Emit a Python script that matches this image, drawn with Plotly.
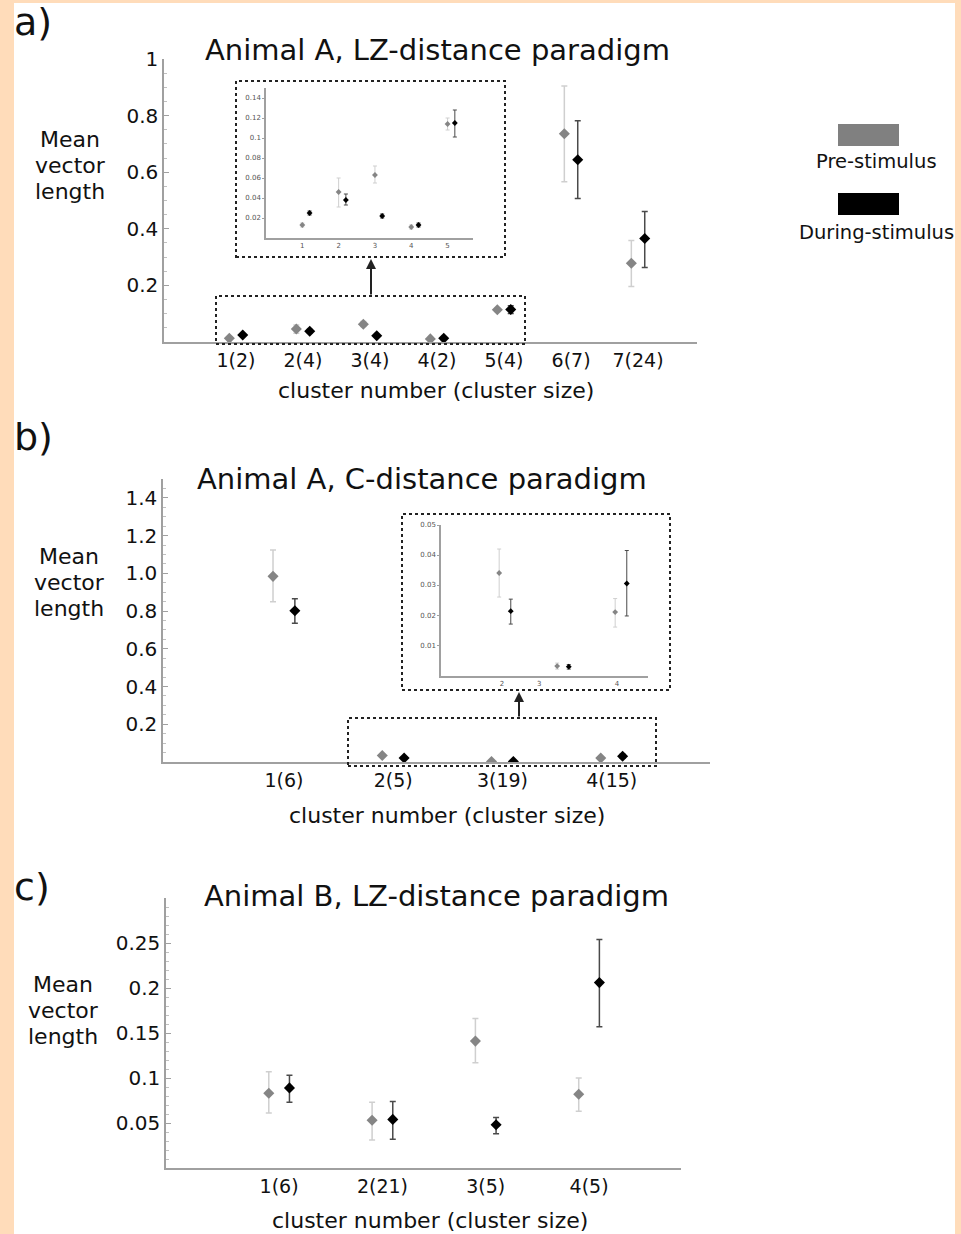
import plotly.graph_objects as go

# ---------------- data ----------------
A_clusters = ["1(2)", "2(4)", "3(4)", "4(2)", "5(4)", "6(7)", "7(24)"]
A_pre = [0.013, 0.046, 0.063, 0.011, 0.114, 0.736, 0.278]
A_pre_hi = [0.015, 0.060, 0.072, 0.013, 0.120, 0.905, 0.359]
A_pre_lo = [0.011, 0.031, 0.055, 0.009, 0.108, 0.566, 0.196]
A_dur = [0.025, 0.038, 0.022, 0.013, 0.115, 0.644, 0.366]
A_dur_hi = [0.027, 0.044, 0.024, 0.015, 0.128, 0.782, 0.461]
A_dur_lo = [0.023, 0.033, 0.020, 0.011, 0.101, 0.507, 0.263]
A_inset_n = 5  # clusters shown in the inset
A_inset_ticks = ["1", "2", "3", "4", "5"]

B_clusters = ["1(6)", "2(5)", "3(19)", "4(15)"]
B_pre = [0.984, 0.034, 0.003, 0.021]
B_pre_hi = [1.124, 0.042, 0.004, 0.0255]
B_pre_lo = [0.850, 0.026, 0.002, 0.016]
B_dur = [0.802, 0.0213, 0.0028, 0.0305]
B_dur_hi = [0.865, 0.0253, 0.0035, 0.0415]
B_dur_lo = [0.736, 0.017, 0.002, 0.0197]
B_inset_ticks = ["2", "3", "4"]
B_inset_tickpos = [1.95, 2.59, 3.93]

C_clusters = ["1(6)", "2(21)", "3(5)", "4(5)"]
C_pre = [0.083, 0.053, 0.141, 0.082]
C_pre_hi = [0.107, 0.073, 0.166, 0.100]
C_pre_lo = [0.061, 0.031, 0.117, 0.063]
C_dur = [0.089, 0.054, 0.048, 0.206]
C_dur_hi = [0.103, 0.074, 0.056, 0.254]
C_dur_lo = [0.073, 0.032, 0.038, 0.157]

titles = ["Animal A, LZ-distance paradigm", "Animal A, C-distance paradigm",
          "Animal B, LZ-distance paradigm"]
ylabel_lines = ["Mean", "vector", "length"]
xlabel = "cluster number (cluster size)"
legend_names = ["Pre-stimulus", "During-stimulus"]

# ---------------- style ----------------
W, H = 961, 1234
FONT = "DejaVu Sans"
PRE_C, DUR_C = "#858585", "#000000"
PRE_E, DUR_E = "#cfcfcf", "#4a4a4a"
AXC = "#a0a0a0"


def fx(p):
    return p / W


def fy(p):
    return 1 - p / H


fig = go.Figure()


def add_pair(xs_pre, xs_dur, pre, pre_hi, pre_lo, dur, dur_hi, dur_lo, xa, ya, msize, ethick, ewidth):
    fig.add_trace(go.Scatter(
        x=xs_pre, y=pre, mode="markers", xaxis=xa, yaxis=ya, showlegend=False,
        marker=dict(symbol="diamond", size=msize, color=PRE_C),
        error_y=dict(type="data", symmetric=False,
                     array=[h - v for h, v in zip(pre_hi, pre)],
                     arrayminus=[v - l for v, l in zip(pre, pre_lo)],
                     color=PRE_E, thickness=ethick, width=ewidth)))
    fig.add_trace(go.Scatter(
        x=xs_dur, y=dur, mode="markers", xaxis=xa, yaxis=ya, showlegend=False,
        marker=dict(symbol="diamond", size=msize, color=DUR_C),
        error_y=dict(type="data", symmetric=False,
                     array=[h - v for h, v in zip(dur_hi, dur)],
                     arrayminus=[v - l for v, l in zip(dur, dur_lo)],
                     color=DUR_E, thickness=ethick, width=ewidth)))


# panel a main
nA = len(A_clusters)
add_pair([i + 1 - 0.1 for i in range(nA)], [i + 1 + 0.1 for i in range(nA)],
         A_pre, A_pre_hi, A_pre_lo, A_dur, A_dur_hi, A_dur_lo, "x", "y", 8.5, 1.5, 3)
# panel a inset
add_pair([i + 1 for i in range(A_inset_n)], [i + 1.2 for i in range(A_inset_n)],
         A_pre[:A_inset_n], A_pre_hi[:A_inset_n], A_pre_lo[:A_inset_n],
         A_dur[:A_inset_n], A_dur_hi[:A_inset_n], A_dur_lo[:A_inset_n], "x2", "y2", 4.5, 1, 2)
# panel b main
nB = len(B_clusters)
add_pair([i + 1 - 0.1 for i in range(nB)], [i + 1 + 0.1 for i in range(nB)],
         B_pre, B_pre_hi, B_pre_lo, B_dur, B_dur_hi, B_dur_lo, "x3", "y3", 8.5, 1.5, 3)
# panel b inset (clusters 2-4)
add_pair([i + 1 - 0.1 for i in range(1, nB)], [i + 1 + 0.1 for i in range(1, nB)],
         B_pre[1:], B_pre_hi[1:], B_pre_lo[1:], B_dur[1:], B_dur_hi[1:], B_dur_lo[1:],
         "x4", "y4", 4.5, 1, 2)
# panel c
nC = len(C_clusters)
add_pair([i + 1 - 0.1 for i in range(nC)], [i + 1 + 0.1 for i in range(nC)],
         C_pre, C_pre_hi, C_pre_lo, C_dur, C_dur_hi, C_dur_lo, "x5", "y5", 8.5, 1.5, 3)


def xax(domain, rng, tickvals, ticktext, anchor, size=19, color="#111"):
    return dict(domain=domain, range=rng, anchor=anchor, tickvals=tickvals, ticktext=ticktext,
                showline=True, linecolor=AXC, linewidth=1.5, ticks="", showgrid=False,
                zeroline=False, automargin=False,
                tickfont=dict(family=FONT, size=size, color=color))


def yax(domain, rng, tickvals, ticktext, anchor, ticks="inside", minor=None, size=20,
        color="#111", tlen=5):
    d = dict(domain=domain, range=rng, anchor=anchor, tickvals=tickvals, ticktext=ticktext,
             showline=True, linecolor=AXC, linewidth=1.5, ticks=ticks, ticklen=tlen,
             tickcolor=AXC, showgrid=False, zeroline=False, automargin=False,
             tickfont=dict(family=FONT, size=size, color=color))
    if minor:
        d["minor"] = dict(dtick=minor, ticks=ticks, ticklen=3, tickcolor="#c0c0c0")
    return d


layout = dict(
    width=W, height=H, margin=dict(l=0, r=0, t=0, b=0, pad=0, autoexpand=False),
    paper_bgcolor="#FFDCBA", plot_bgcolor="rgba(0,0,0,0)",
    font=dict(family=FONT, color="#111"),
    xaxis=xax([fx(164), fx(697)], [-0.075, 7.88], list(range(1, nA + 1)), A_clusters, "y"),
    yaxis=yax([fy(342), fy(59)], [0, 1.0], [0.2, 0.4, 0.6, 0.8, 1.0],
              ["0.2", "0.4", "0.6", "0.8", "1"], "x", minor=0.05),
    xaxis2=xax([fx(266), fx(473)], [0, 5.7], list(range(1, A_inset_n + 1)), A_inset_ticks, "y2",
               size=7, color="#555"),
    yaxis2=yax([fy(238), fy(88)], [0, 0.15], [0.02, 0.04, 0.06, 0.08, 0.1, 0.12, 0.14],
               ["0.02", "0.04", "0.06", "0.08", "0.1", "0.12", "0.14"], "x2", ticks="outside",
               size=7, color="#555", tlen=2),
    xaxis3=xax([fx(163), fx(710)], [-0.107, 4.9], list(range(1, nB + 1)), B_clusters, "y3"),
    yaxis3=yax([fy(762), fy(479)], [0, 1.5], [0.2, 0.4, 0.6, 0.8, 1.0, 1.2, 1.4],
               ["0.2", "0.4", "0.6", "0.8", "1.0", "1.2", "1.4"], "x3", minor=0.05),
    xaxis4=xax([fx(441), fx(648)], [0.897, 4.466], B_inset_tickpos, B_inset_ticks, "y4",
               size=7, color="#555"),
    yaxis4=yax([fy(676), fy(525)], [-0.0003, 0.05], [0.01, 0.02, 0.03, 0.04, 0.05],
               ["0.01", "0.02", "0.03", "0.04", "0.05"], "x4", ticks="outside", size=7,
               color="#555", tlen=2),
    xaxis5=xax([fx(166), fx(681)], [-0.095, 4.89], list(range(1, nC + 1)), C_clusters, "y5"),
    yaxis5=yax([fy(1168), fy(898)], [0, 0.3], [0.05, 0.1, 0.15, 0.2, 0.25],
               ["0.05", "0.1", "0.15", "0.2", "0.25"], "x5", minor=0.01),
)
fig.update_layout(**layout)

shapes = [dict(type="rect", xref="paper", yref="paper", x0=fx(14), x1=fx(955), y0=0, y1=fy(3),
               fillcolor="white", line=dict(width=0), layer="below")]
dot = dict(color="#222", width=2, dash="dot")
for (x0, y0, x1, y1) in [(236, 81, 505, 257), (216, 296, 525, 344),
                         (402, 514, 670, 690), (348, 718, 656, 766)]:
    shapes.append(dict(type="rect", xref="paper", yref="paper", x0=fx(x0), x1=fx(x1),
                       y0=fy(y1), y1=fy(y0), line=dot, layer="above"))
# legend swatches
shapes.append(dict(type="rect", xref="paper", yref="paper", x0=fx(838), x1=fx(899),
                   y0=fy(146), y1=fy(124), fillcolor="#808080", line=dict(width=0)))
shapes.append(dict(type="rect", xref="paper", yref="paper", x0=fx(838), x1=fx(899),
                   y0=fy(215), y1=fy(193), fillcolor="#000000", line=dict(width=0)))
fig.update_layout(shapes=shapes)

ann = []


def txt(x, y, s, size, anchor="center"):
    ann.append(dict(x=fx(x), y=fy(y), xref="paper", yref="paper", text=s, showarrow=False,
                    xanchor=anchor, yanchor="middle",
                    font=dict(family=FONT, size=size, color="#111")))


txt(437, 50, titles[0], 29)
txt(422, 479, titles[1], 29)
txt(436, 896, titles[2], 29)
for (x, y) in [(436, 390), (447, 815), (430, 1220)]:
    txt(x, y, xlabel, 22)
for (x, y) in [(70, 166), (69, 582), (63, 1010)]:
    for k, line in enumerate(ylabel_lines):
        txt(x, y + (k - 1) * 26, line, 22)
txt(12, 22, "a)", 38, "left")
txt(12, 437, "b)", 38, "left")
txt(12, 887, "c)", 38, "left")
txt(876, 161, legend_names[0], 19.5)
txt(876, 232, legend_names[1], 19.5)

for (x, yh, yt) in [(371, 259, 296), (519, 692, 718)]:
    ann.append(dict(x=fx(x), y=fy(yh), xref="paper", yref="paper", text="", showarrow=True,
                    ax=0, ay=yt - yh, arrowhead=2, arrowsize=1, arrowwidth=2,
                    arrowcolor="#222"))
fig.update_layout(annotations=ann)

fig.write_html("out.html", config={"displayModeBar": False},
               post_script="document.body.style.margin='0px';"
                           "document.body.style.overflow='hidden';")
